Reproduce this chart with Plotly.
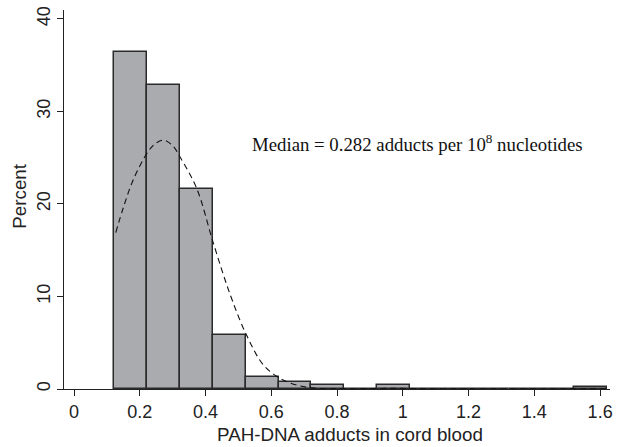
import plotly.graph_objects as go

# Histogram bins (adducts per 10^8 nucleotides)
bin_centers = [0.172, 0.272, 0.372, 0.472, 0.572, 0.672, 0.772, 0.872, 0.972,
               1.072, 1.172, 1.272, 1.372, 1.472, 1.572]
percent = [36.4, 32.9, 21.6, 5.8, 1.26, 0.72, 0.4, 0.0, 0.46,
           0.0, 0.0, 0.0, 0.0, 0.0, 0.2]
bin_width = 0.1

# Kernel density estimate (dashed curve)
kde_x = [0.127, 0.15, 0.18, 0.226, 0.25, 0.272, 0.30, 0.322, 0.373, 0.424, 0.475,
         0.525, 0.576, 0.627, 0.677, 0.723, 0.78, 0.85, 0.92, 0.97, 1.02, 1.1,
         1.2, 1.3, 1.4, 1.5, 1.57, 1.622]
kde_y = [16.9, 19.6, 22.6, 25.7, 26.6, 26.9, 26.3, 25.1, 21.7, 15.75, 10.2,
         5.8, 2.6, 1.15, 0.43, 0.12, 0.04, 0.03, 0.05, 0.08, 0.05, 0.02,
         0.01, 0.01, 0.01, 0.02, 0.04, 0.02]

x_ticks = [0, 0.2, 0.4, 0.6, 0.8, 1.0, 1.2, 1.4, 1.6]
x_tick_labels = ["0", "0.2", "0.4", "0.6", "0.8", "1", "1.2", "1.4", "1.6"]
y_ticks = [0, 10, 20, 30, 40]

fig = go.Figure()
fig.add_trace(go.Bar(
    x=bin_centers, y=percent, width=bin_width,
    marker=dict(color="#aaabae", line=dict(color="#2a2a2a", width=1.5)),
    showlegend=False, hoverinfo="skip",
))
fig.add_trace(go.Scatter(
    x=kde_x, y=kde_y, mode="lines", line_shape="spline",
    line=dict(color="#111111", width=1.1, dash="6px,4px"),
    showlegend=False, hoverinfo="skip",
))

fig.add_annotation(
    x=1.554, y=26.6, xref="x", yref="y", xanchor="right", yanchor="middle",
    text="Median = 0.282 adducts per 10<sup>8</sup> nucleotides",
    showarrow=False,
    font=dict(family="Liberation Serif, Times New Roman, serif", size=18.8, color="#111111"),
)

axis_font = dict(family="Liberation Sans, Arial, Helvetica, sans-serif", size=18, color="#222222")
title_font = dict(family="Liberation Sans, Arial, Helvetica, sans-serif", size=18.8, color="#222222")

fig.add_annotation(
    x=0.524, y=-0.121, xref="paper", yref="paper", xanchor="center", yanchor="middle",
    text="PAH-DNA adducts in cord blood", showarrow=False, font=title_font,
)
fig.add_annotation(
    x=-0.0806, y=0.51, xref="paper", yref="paper", xanchor="center", yanchor="middle",
    text="Percent", textangle=-90, showarrow=False, font=title_font,
)

fig.update_layout(
    width=618, height=447,
    margin=dict(l=64, r=8, t=10, b=58),
    paper_bgcolor="white", plot_bgcolor="white",
    bargap=0,
    font=axis_font,
    xaxis=dict(
        range=[-0.0304, 1.630], tickvals=x_ticks, ticktext=x_tick_labels,
        showline=True, linecolor="#222222", linewidth=1.2, automargin=False,
        ticks="outside", ticklen=6, tickcolor="#222222", showgrid=False, zeroline=False,
        tickfont=axis_font,
    ),
    yaxis=dict(
        range=[0, 40.97], tickvals=y_ticks, tickangle=-90,
        showline=True, linecolor="#222222", linewidth=1.2, automargin=False,
        ticks="outside", ticklen=6, tickcolor="#222222", showgrid=False, zeroline=False,
        tickfont=axis_font,
    ),
)

fig.write_html("out.html", config={"displayModeBar": False},
               post_script="document.body.style.margin='0px';")
